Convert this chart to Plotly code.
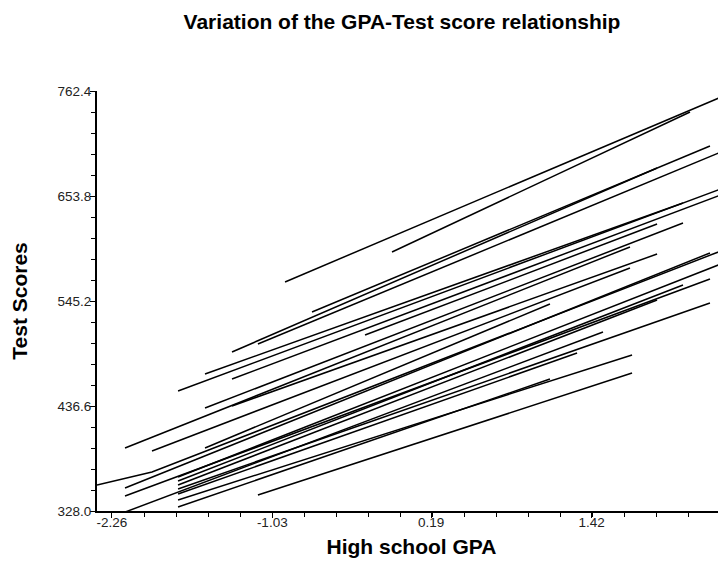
import plotly.graph_objects as go

# Each line: predicted test score across a group's GPA range (start point -> end point)
gpa_start = [-0.932, -0.111, -0.725, -1.339, -1.140, -1.546, -1.753, -1.339, -0.318, -1.546,
             -2.160, -1.339, -1.953, -1.546,
             -2.160, -1.753, -2.160, -1.753, -1.753, -1.753, -2.260, -1.753, -1.753, -1.753, -1.140]
score_start = [564.9, 595.9, 533.8, 492.5, 500.7, 469.7, 452.1, 464.5, 510.0, 434.5,
               393.2, 436.6, 390.1, 393.2,
               351.8, 363.2, 343.5, 359.0, 354.9, 350.8, 321.8, 345.6, 339.4, 332.1, 344.5]
gpa_end = [2.452, 2.176, 2.329, 1.923, 2.452, 2.122, 2.452, 2.452, 1.923, 2.122,
           1.715, 1.923, 1.715, 1.101,
           2.329, 2.452, 2.329, 2.122, 1.923, 2.329, 1.508, 1.309, 1.731, 1.101, 1.731]
score_end = [758.3, 740.7, 705.5, 682.8, 701.4, 646.6, 663.1, 656.9, 624.8, 625.9,
             601.1, 593.8, 579.3, 542.1,
             594.9, 585.5, 568.0, 561.8, 546.2, 543.1, 513.1, 491.4, 489.4, 464.5, 470.7]

# One group whose line has a kink
bent_gpa = [-2.375, -1.953, 2.452]
bent_score = [354.9, 368.3, 599.0]

x_tick_vals = [-2.26, -1.03, 0.19, 1.42]
x_tick_text = ["-2.26", "-1.03", "0.19", "1.42"]
y_tick_vals = [328.0, 436.6, 545.2, 653.8, 762.4]
y_tick_text = ["328.0", "436.6", "545.2", "653.8", "762.4"]

xs, ys = [], []
for x0, y0, x1, y1 in zip(gpa_start, score_start, gpa_end, score_end):
    xs += [x0, x1, None]
    ys += [y0, y1, None]
xs += bent_gpa
ys += bent_score

fig = go.Figure()
fig.add_trace(go.Scatter(x=xs, y=ys, mode="lines",
                         line=dict(color="black", width=1.5),
                         showlegend=False, hoverinfo="skip"))

font_family = "Liberation Sans, Arial, sans-serif"
axis_common = dict(
    showline=True, linecolor="black", linewidth=2,
    ticks="outside", ticklen=5, tickwidth=1, tickcolor="black",
    showgrid=False, zeroline=False, mirror=False, automargin=False,
    tickfont=dict(family=font_family, size=13.5, color="#222"),
)

# page body has an 8px margin, so the figure is sized/positioned to compensate
fig.update_layout(
    template="none",
    width=718, height=553,
    margin=dict(l=89, r=0, t=83, b=50, pad=0),
    paper_bgcolor="white", plot_bgcolor="white",
    title=dict(text="Variation of the GPA-Test score relationship",
               x=394 / 718, xref="container", xanchor="center",
               y=1 - 14 / 553, yref="container", yanchor="middle",
               font=dict(family=font_family, size=21, color="black", weight="bold")),
    xaxis=dict(
        range=[-2.375, 2.452], tickmode="array",
        tickvals=x_tick_vals, ticktext=x_tick_text, ticklabelstandoff=-7,
        title=dict(text="High school GPA", standoff=10,
                   font=dict(family=font_family, size=21, color="black", weight="bold")),
        minor=dict(ticks="outside", ticklen=4, tickcolor="black", tickwidth=1,
                   tickmode="linear", tick0=-2.26, dtick=0.246, showgrid=False),
        **axis_common),
    yaxis=dict(
        range=[328.0, 762.4], tickmode="array",
        tickvals=y_tick_vals, ticktext=y_tick_text, ticklabelstandoff=-4,
        title=dict(text="Test Scores", standoff=24,
                   font=dict(family=font_family, size=21, color="black", weight="bold")),
        minor=dict(ticks="outside", ticklen=4, tickcolor="black", tickwidth=1,
                   tickmode="linear", tick0=328.0, dtick=21.72, showgrid=False),
        **axis_common),
)

fig.write_html("out.html")
